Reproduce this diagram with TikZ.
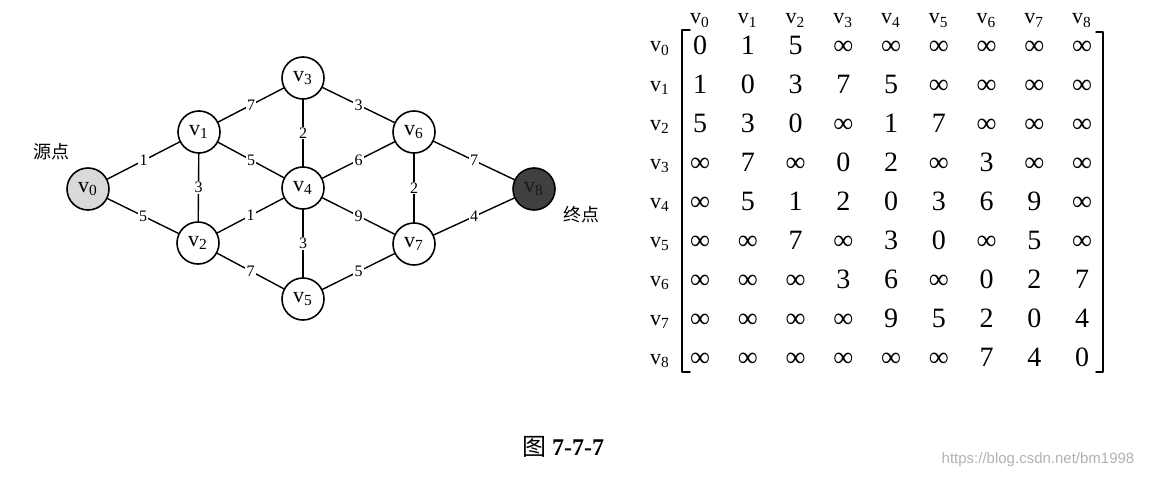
\documentclass[tikz,border=0pt]{standalone}
\usepackage{fontspec}
\setmainfont{Liberation Serif}
\newfontfamily\cjk{Noto Sans CJK SC}
\newfontfamily\wmfont{Liberation Sans}
\newcommand{\vtx}[1]{v\textsubscript{#1}}
\newcommand{\inff}{∞}

\begin{document}
\begin{tikzpicture}[x=0.5pt, y=-0.5pt, line join=round, line cap=round,
	vert/.style={circle, draw, fill=white, line width=0.8pt, minimum size=21pt, inner sep=0pt, font=\fontsize{11}{11}\selectfont},
	wt/.style={fill=white, inner sep=0.6pt, font=\fontsize{8}{8}\selectfont},
	entry/.style={font=\fontsize{14}{14}\selectfont, inner sep=0pt, text height=9.5pt, text depth=0pt},
	head/.style={font=\fontsize{11}{11}\selectfont, inner sep=0pt, text height=7pt, text depth=2pt}]
		\useasboundingbox (0,0) rectangle (1149,476);
		% graph
		\node[vert, fill=black!15] (v0) at (88,189) {\vtx{0}};
		\foreach \n/\x/\y in {1/199/132, 2/198/243, 3/303/78, 4/303/188, 5/303/299, 6/414/132, 7/414/244}
		\node[vert] (v\n) at (\x,\y) {\vtx{\n}};
		\node[vert, fill=black!75, text=black!90] (v8) at (534,189) {\vtx{8}};
		\foreach \a/\b/\w in {0/1/1, 0/2/5, 1/2/3, 1/3/7, 1/4/5, 2/4/1, 2/5/7, 3/4/2, 4/5/3, 3/6/3, 4/6/6, 4/7/9, 5/7/5, 6/7/2, 6/8/7, 7/8/4}
		\draw[line width=0.7pt] (v\a) -- node[wt] {\w} (v\b);
		\node[font=\cjk\fontsize{9}{9}\selectfont] (src) at (51,152) {源点};
		\node[font=\cjk\fontsize{9}{9}\selectfont] (dst) at (581,215) {终点};
		% matrix
		\foreach \j in {0,...,8}
		\node[head] (h\j) at ({700+47.75*\j},19) {\vtx{\j}};
		\foreach \i in {0,...,8}
		\node[head] (r\i) at (660,{47+39*\i}) {\vtx{\i}};
		\foreach \row [count=\i from 0] in {
			{0,1,5,\inff,\inff,\inff,\inff,\inff,\inff},
			{1,0,3,7,5,\inff,\inff,\inff,\inff},
			{5,3,0,\inff,1,7,\inff,\inff,\inff},
			{\inff,7,\inff,0,2,\inff,3,\inff,\inff},
			{\inff,5,1,2,0,3,6,9,\inff},
			{\inff,\inff,7,\inff,3,0,\inff,5,\inff},
			{\inff,\inff,\inff,3,6,\inff,0,2,7},
			{\inff,\inff,\inff,\inff,9,5,2,0,4},
			{\inff,\inff,\inff,\inff,\inff,\inff,7,4,0}}
		\foreach \e [count=\j from 0] in \row
		\node[entry] (m-\i-\j) at ({700+47.75*\j},{45+39*\i}) {\e};
		\draw[line width=0.75pt] (690,30) -- (682,30) -- (682,372) -- (690,372);
		\draw[line width=0.75pt] (1096,32) -- (1103,32) -- (1103,372) -- (1096,372);
		% caption
		\node[font=\fontsize{12}{12}\selectfont] (cap) at (563,447) {{\cjk 图} \textbf{7-7-7}};
		\node[font=\wmfont\fontsize{7.5}{7.5}\selectfont, text=black!30] (wm) at (1038,460) {https://blog.csdn.net/bm1998};
	\end{tikzpicture}
\end{document}
